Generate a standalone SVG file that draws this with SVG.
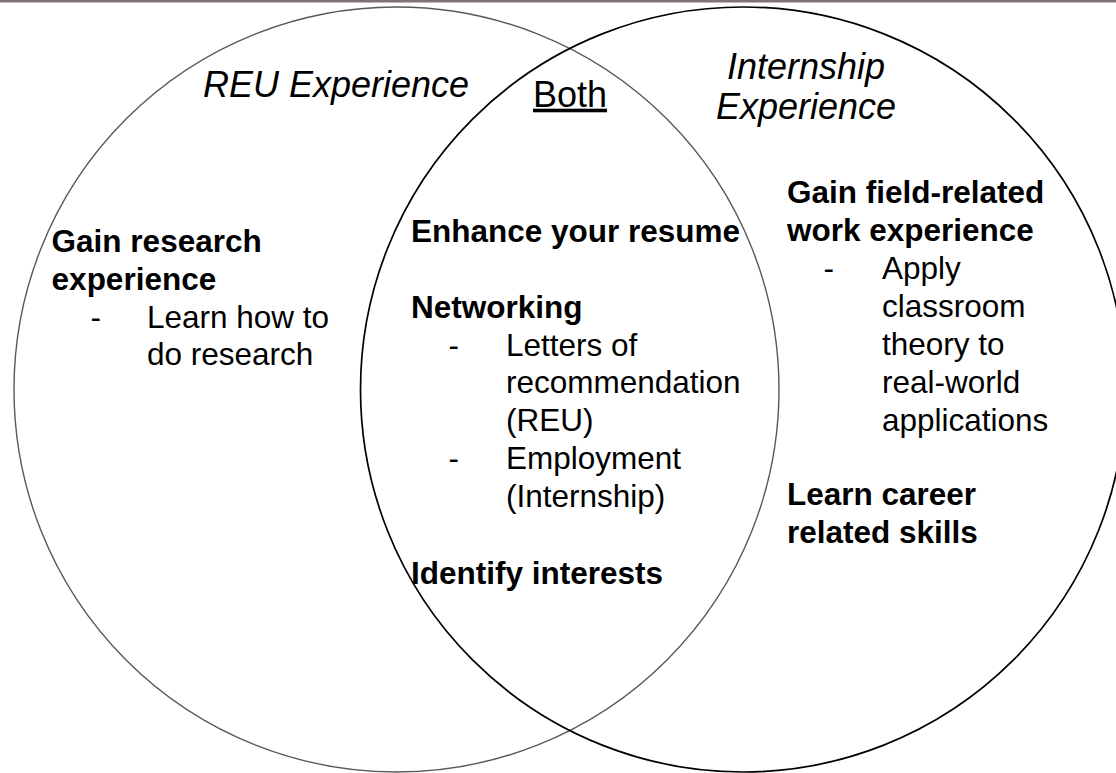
<svg xmlns="http://www.w3.org/2000/svg" width="1116" height="773" viewBox="0 0 1116 773">
<style>
.t{font-family:"Liberation Sans",Arial,sans-serif;fill:#000}
.b{font-size:31.5px;font-weight:bold}
.r{font-size:31.5px}
.h{font-size:36px;font-style:italic}
</style>
<rect width="1116" height="773" fill="#fff"/>
<rect x="0" y="0" width="1116" height="2.5" fill="#7f7374"/>
<g id="connectors"></g>
<g id="reu-circle">
<circle cx="396.5" cy="389.5" r="382.5" fill="none" stroke="#595959" stroke-width="1.4"/>
<text class="t h" x="203" y="97">REU Experience</text>
<text class="t b" x="51.6" y="252.3">Gain research</text>
<text class="t b" x="51.6" y="290">experience</text>
<text class="t r" x="90.5" y="327.7">-</text>
<text class="t r" x="147" y="327.7">Learn how to</text>
<text class="t r" x="147" y="365.4">do research</text>
</g>
<g id="internship-circle">
<circle cx="743" cy="389.5" r="382.5" fill="none" stroke="#000" stroke-width="1.7"/>
<text class="t h" x="806" y="79" text-anchor="middle">Internship</text>
<text class="t h" x="806" y="118.5" text-anchor="middle">Experience</text>
<text class="t b" x="787" y="203.3">Gain field-related</text>
<text class="t b" x="787" y="241">work experience</text>
<text class="t r" x="823.5" y="278.5">-</text>
<text class="t r" x="882" y="278.5">Apply</text>
<text class="t r" x="882" y="316.5">classroom</text>
<text class="t r" x="882" y="354.5">theory to</text>
<text class="t r" x="882" y="392.5">real-world</text>
<text class="t r" x="882" y="430.5">applications</text>
<text class="t b" x="787" y="505">Learn career</text>
<text class="t b" x="787" y="542.7">related skills</text>
</g>
<g id="both">
<text class="t" x="533" y="106.7" font-size="36" text-decoration="underline">Both</text>
<text class="t b" x="411" y="241.7">Enhance your resume</text>
<text class="t b" x="411" y="317.5">Networking</text>
<text class="t r" x="448.5" y="355.5">-</text>
<text class="t r" x="506" y="355.5">Letters of</text>
<text class="t r" x="506" y="393.3">recommendation</text>
<text class="t r" x="506" y="431">(REU)</text>
<text class="t r" x="448.5" y="468.8">-</text>
<text class="t r" x="506" y="468.8">Employment</text>
<text class="t r" x="506" y="506.5">(Internship)</text>
<text class="t b" x="411" y="584">Identify interests</text>
</g>
</svg>
